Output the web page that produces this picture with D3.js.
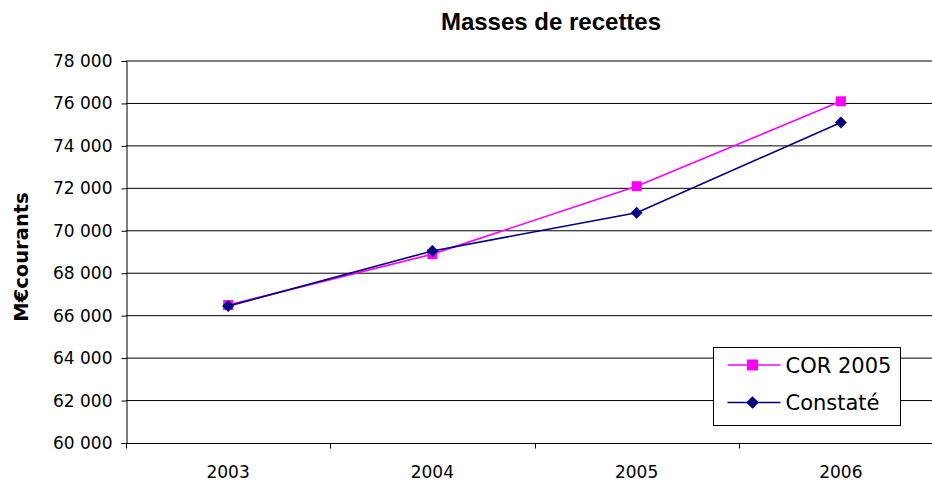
<!DOCTYPE html>
<html>
<head>
<meta charset="utf-8">
<script src="https://cdn.jsdelivr.net/npm/d3@7"></script>
<style>
  body { margin: 0; background: #fff; }
  text { font-family: "DejaVu Sans", Arial, sans-serif; fill: #000; }
</style>
</head>
<body>
<div class="chart"></div>
<script>
// data
var years = ["2003", "2004", "2005", "2006"];
var corValues = [66500, 68900, 72100, 76100];
var constateValues = [66450, 69050, 70850, 75100];
var yTicks = [60000, 62000, 64000, 66000, 68000, 70000, 72000, 74000, 76000, 78000];

var width = 932, height = 482;
var margin = { top: 61, right: -11, bottom: 39, left: 126 };

var svg = d3.select(".chart").append("svg")
    .attr("width", width)
    .attr("height", height);

var x = d3.scaleBand()
    .domain(years)
    .range([margin.left, width - margin.right]);

var y = d3.scaleLinear()
    .domain([60000, 78000])
    .range([height - margin.bottom, margin.top]);

var fmt = function(d) { return d3.format(",")(d).replace(/,/g, " "); };

// gridlines
svg.append("g")
    .selectAll("line")
    .data(yTicks.slice(1))
    .enter().append("line")
    .attr("x1", margin.left)
    .attr("x2", width)
    .attr("y1", function(d) { return y(d); })
    .attr("y2", function(d) { return y(d); })
    .style("stroke", "#000")
    .style("stroke-width", 1);

// y axis
var yAxis = svg.append("g")
    .attr("transform", "translate(" + (margin.left + 0.5) + ",0)")
    .call(d3.axisLeft(y).tickValues(yTicks).tickFormat(fmt).tickSize(5).tickPadding(9));
yAxis.select(".domain").style("stroke", "#000");
yAxis.selectAll("text").style("font-size", "17px").style("fill", "#000");

// x axis
var xAxisG = svg.append("g")
    .attr("transform", "translate(0," + (Math.round(y(60000)) + 0.5) + ")");
xAxisG.append("line")
    .attr("x1", margin.left).attr("x2", width)
    .style("stroke", "#000");
xAxisG.selectAll(".tk")
    .data(years)
    .enter().append("line")
    .attr("x1", function(d) { return Math.round(x(d)) + 0.5; })
    .attr("x2", function(d) { return Math.round(x(d)) + 0.5; })
    .attr("y1", 0).attr("y2", 5)
    .style("stroke", "#000");
xAxisG.selectAll("text")
    .data(years)
    .enter().append("text")
    .attr("x", function(d) { return x(d) + x.bandwidth() / 2; })
    .attr("y", 34)
    .attr("text-anchor", "middle")
    .style("font-size", "17px")
    .text(function(d) { return d; });

var cx = function(d, i) { return x(years[i]) + x.bandwidth() / 2; };

var line = d3.line()
    .x(function(d, i) { return x(years[i]) + x.bandwidth() / 2; })
    .y(function(d) { return y(d); });

// COR 2005
svg.append("path")
    .datum(corValues)
    .attr("d", line)
    .style("fill", "none")
    .style("stroke", "#ff00ff")
    .style("stroke-width", 1.6);

svg.append("g").selectAll("rect")
    .data(corValues)
    .enter().append("rect")
    .attr("x", function(d, i) { return cx(d, i) - 5; })
    .attr("y", function(d) { return y(d) - 5; })
    .attr("width", 10).attr("height", 10)
    .style("fill", "#ff00ff");

// Constaté
svg.append("path")
    .datum(constateValues)
    .attr("d", line)
    .style("fill", "none")
    .style("stroke", "#000080")
    .style("stroke-width", 1.6);

svg.append("g").selectAll("path")
    .data(constateValues)
    .enter().append("path")
    .attr("transform", function(d, i) { return "translate(" + cx(d, i) + "," + y(d) + ") rotate(45)"; })
    .attr("d", d3.symbol().type(d3.symbolSquare).size(72))
    .style("fill", "#000080");

// title
svg.append("text")
    .attr("x", 551).attr("y", 30)
    .attr("text-anchor", "middle")
    .style("font-family", "'Liberation Sans', Arial, sans-serif")
    .style("font-size", "24px")
    .style("font-weight", "bold")
    .text("Masses de recettes");

// y label
svg.append("text")
    .attr("transform", "translate(28,257) rotate(-90)")
    .attr("text-anchor", "middle")
    .style("font-size", "19.5px")
    .style("font-weight", "bold")
    .text("M€courants");

// legend
var legend = svg.append("g").attr("transform", "translate(713.5,347.5)");
legend.append("rect")
    .attr("width", 187).attr("height", 78)
    .style("fill", "#fff")
    .style("stroke", "#000");

var legendItems = [
    { name: "COR 2005", color: "#ff00ff", shape: "square" },
    { name: "Constaté", color: "#000080", shape: "diamond" }
];
var li = legend.selectAll(".li")
    .data(legendItems)
    .enter().append("g")
    .attr("transform", function(d, i) { return "translate(0," + (17.5 + i * 37.5) + ")"; });
li.append("line")
    .attr("x1", 14).attr("x2", 67)
    .style("stroke", function(d) { return d.color; })
    .style("stroke-width", 1.6);
li.append("path")
    .attr("transform", function(d) { return "translate(39,0)" + (d.shape === "diamond" ? " rotate(45)" : ""); })
    .attr("d", function(d) { return d3.symbol().type(d3.symbolSquare).size(d.shape === "diamond" ? 80 : 121)(); })
    .style("fill", function(d) { return d.color; });
li.append("text")
    .attr("x", 72).attr("y", 7.5)
    .style("font-size", "21px")
    .text(function(d) { return d.name; });
</script>
</body>
</html>
